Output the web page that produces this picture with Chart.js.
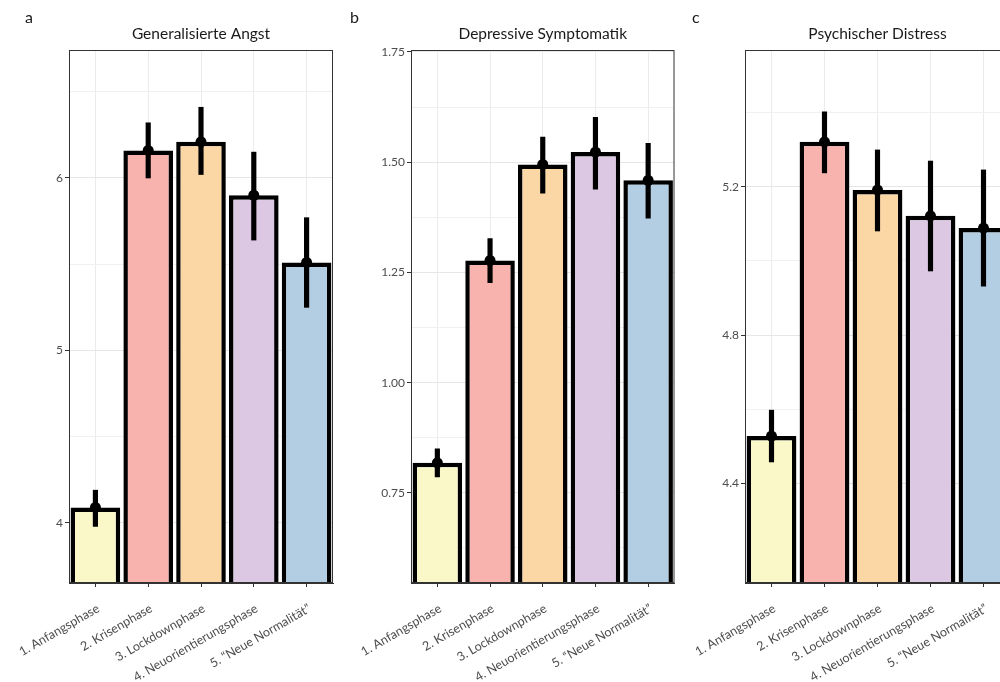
<!DOCTYPE html>
<html>
<head>
<meta charset="utf-8">
<script src="https://cdn.jsdelivr.net/npm/chart.js@4.4.1/dist/chart.umd.min.js"></script>
<style>
  html, body { margin: 0; padding: 0; overflow: hidden; background: #fff; }
  #wrap { position: relative; width: 1000px; height: 682px; overflow: hidden; }
  #wrap canvas { position: absolute; top: 0; }
</style>
</head>
<body>
<div id="wrap">
  <canvas id="panelA" width="340" height="682" style="left:0px"></canvas>
  <canvas id="panelB" width="340" height="682" style="left:340px"></canvas>
  <canvas id="panelC" width="340" height="682" style="left:680px"></canvas>
</div>
<script>
// Pandemic phases (x categories)
const phases = ['1. Anfangsphase', '2. Krisenphase', '3. Lockdownphase', '4. Neuorientierungsphase', '5. \u201CNeue Normalit\u00E4t\u201D'];

// a) Generalisierte Angst: means and confidence limits
const angstMean = [4.09, 6.16, 6.21, 5.90, 5.51];
const angstLow  = [3.98, 6.00, 6.02, 5.64, 5.25];
const angstHigh = [4.19, 6.32, 6.41, 6.15, 5.77];
const angstMajor = [4, 5, 6];
const angstMinor = [4.5, 5.5, 6.5];

// b) Depressive Symptomatik
const deprMean = [0.818, 1.277, 1.495, 1.523, 1.459];
const deprLow  = [0.786, 1.227, 1.430, 1.439, 1.373];
const deprHigh = [0.850, 1.327, 1.557, 1.602, 1.543];
const deprMajor = [0.75, 1.00, 1.25, 1.50, 1.75];
const deprMinor = [0.625, 0.875, 1.125, 1.375, 1.625];

// c) Psychischer Distress
const distrMean = [4.527, 5.322, 5.192, 5.122, 5.089];
const distrLow  = [4.457, 5.238, 5.081, 4.973, 4.932];
const distrHigh = [4.597, 5.403, 5.300, 5.270, 5.246];
const distrMajor = [4.4, 4.8, 5.2];
const distrMinor = [4.6, 5.0, 5.4];

// Pastel fills, one per phase
const phaseFills = ['#FAF8C8', '#F8B3AE', '#FCD7A6', '#DCC8E2', '#B3CDE2'];

const FONT = 'Lato, "Open Sans", sans-serif';

// Panel frame, title and panel letter
const framePlugin = {
  id: 'frame',
  afterDraw(chart, args, o) {
    const { ctx, chartArea: a } = chart;
    ctx.save();
    ctx.strokeStyle = '#333';
    ctx.lineWidth = 1;
    ctx.strokeRect(a.left + 0.5, a.top + 0.5, a.right - a.left - 1, a.bottom - a.top - 1);
    ctx.fillStyle = '#1a1a1a';
    ctx.textBaseline = 'middle';
    ctx.textAlign = 'center';
    ctx.font = '15.5px ' + FONT;
    ctx.fillText(o.title, (a.left + a.right) / 2, 34);
    ctx.textAlign = 'left';
    ctx.font = '16px ' + FONT;
    ctx.fillText(o.letter, o.letterX, 18);
    ctx.restore();
  }
};

function isIn(list, v) { return list.some(m => Math.abs(m - v) < 1e-9); }

function makePanel(id, cfg) {
  const gridValues = cfg.major.concat(cfg.minor).sort((p, q) => p - q);
  return new Chart(document.getElementById(id), {
    type: 'bar',
    data: {
      labels: phases,
      datasets: [
        {
          type: 'line',
          data: cfg.mean,
          showLine: false,
          pointRadius: 5.5,
          pointHoverRadius: 5.5,
          pointBackgroundColor: '#000',
          pointBorderWidth: 0,
          order: 0
        },
        {
          type: 'bar',
          data: cfg.mean.map((m, i) => [cfg.low[i], cfg.high[i]]),
          backgroundColor: '#000',
          borderWidth: 0,
          barThickness: 4.5,
          grouped: false,
          order: 1
        },
        {
          type: 'bar',
          data: cfg.mean,
          backgroundColor: phaseFills,
          borderColor: '#000',
          borderWidth: 4.5,
          borderSkipped: false,
          barPercentage: 0.94,
          categoryPercentage: 1,
          grouped: false,
          order: 2
        }
      ]
    },
    options: {
      responsive: false,
      animation: false,
      devicePixelRatio: 1,
      events: [],
      layout: { padding: { top: 50, left: 0, right: cfg.padRight, bottom: 0 } },
      plugins: {
        legend: { display: false },
        tooltip: { enabled: false },
        frame: { title: cfg.title, letter: cfg.letter, letterX: cfg.letterX }
      },
      scales: {
        x: {
          type: 'category',
          offset: true,
          grid: { offset: false, color: '#ebebeb', tickColor: '#333', tickLength: 4 },
          border: { color: '#333' },
          ticks: {
            autoSkip: false, maxRotation: 30, minRotation: 30,
            color: '#4d4d4d', font: { family: FONT, size: 12.5 }, padding: 14, labelOffset: 3
          },
          afterFit(s) { s.height = 99; s.paddingLeft = 0; s.paddingRight = 0; }
        },
        y: {
          min: cfg.min,
          max: cfg.max,
          afterBuildTicks(s) { s.ticks = gridValues.map(v => ({ value: v })); },
          grid: {
            color: c => isIn(cfg.major, c.tick.value) ? '#e6e6e6' : '#f1f1f1',
            tickColor: c => isIn(cfg.major, c.tick.value) ? '#333' : 'rgba(0,0,0,0)',
            tickLength: 4
          },
          border: { color: '#333' },
          ticks: {
            color: '#4d4d4d', font: { family: FONT, size: 12 }, padding: 2,
            callback: v => isIn(cfg.major, v) ? v.toFixed(cfg.digits) : ''
          },
          afterFit(s) { s.width = cfg.axisWidth; s.paddingTop = 0; s.paddingBottom = 0; }
        }
      }
    },
    plugins: [framePlugin]
  });
}

makePanel('panelA', {
  mean: angstMean, low: angstLow, high: angstHigh,
  major: angstMajor, minor: angstMinor, min: 3.652, max: 6.742, digits: 0,
  axisWidth: 69, padRight: 7, title: 'Generalisierte Angst', letter: 'a', letterX: 25
});
makePanel('panelB', {
  mean: deprMean, low: deprLow, high: deprHigh,
  major: deprMajor, minor: deprMinor, min: 0.5455, max: 1.7545, digits: 2,
  axisWidth: 71, padRight: 5, title: 'Depressive Symptomatik', letter: 'b', letterX: 10
});
makePanel('panelC', {
  mean: distrMean, low: distrLow, high: distrHigh,
  major: distrMajor, minor: distrMinor, min: 4.13, max: 5.57, digits: 1,
  axisWidth: 65, padRight: 10, title: 'Psychischer Distress', letter: 'c', letterX: 12
});
</script>
</body>
</html>
